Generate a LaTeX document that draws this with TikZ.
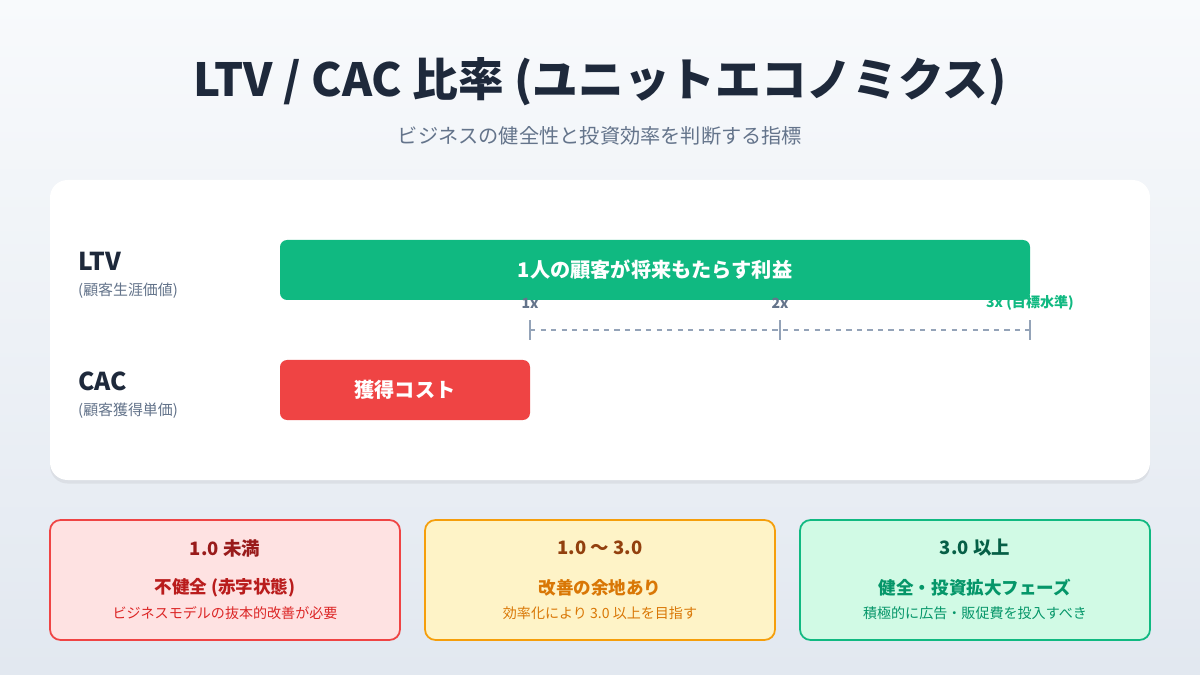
\documentclass[tikz,border=0pt]{standalone}
\usepackage{fontspec}
\setmainfont{Noto Sans CJK JP}
\usetikzlibrary{positioning,shadows}
\definecolor{ink}{HTML}{1E293B}
\definecolor{slate}{HTML}{64748B}
\definecolor{axisgray}{HTML}{94A3B8}
\definecolor{ltvgreen}{HTML}{10B981}
\definecolor{cacred}{HTML}{EF4444}
\definecolor{bgtop}{HTML}{F8FAFC}
\definecolor{bgbot}{HTML}{E2E8F0}

\tikzset{
  bar/.style={rounded corners=4pt, text=white, font=\bfseries\fontsize{11.5}{13}\selectfont},
  rowlabel/.style={anchor=west, align=left, text=ink, font=\bfseries\fontsize{14}{16}\selectfont},
  rowsub/.style={anchor=west, text=slate, font=\fontsize{8.5}{10}\selectfont},
  ticklabel/.style={text=slate, font=\bfseries\fontsize{8}{9}\selectfont},
  zone/.style={rounded corners=6pt, line width=1pt},
}

\begin{document}
\begin{tikzpicture}[x=0.02cm, y=-0.02cm]
\useasboundingbox (0,0) rectangle (1200,675);
\shade[top color=bgtop, bottom color=bgbot] (0,0) rectangle (1200,675);

% title
\node (title) at (600,82) {\textcolor{ink}{\bfseries\fontsize{26}{30}\selectfont LTV / CAC 比率 (ユニットエコノミクス)}};
\node[text=slate, font=\fontsize{11.5}{13}\selectfont] (subtitle) at (600,136) {ビジネスの健全性と投資効率を判断する指標};

% card
\fill[white, rounded corners=10pt, drop shadow={opacity=0.12, shadow xshift=0pt, shadow yshift=-2pt}] (50,180) rectangle (1150,480);

% LTV row
\node[rowlabel] (ltv) at (72,261) {LTV};
\node[rowsub] (ltvsub) at (72,291) {(顧客生涯価値)};
\fill[ltvgreen, rounded corners=4pt] (280,240) rectangle (1030,300);
\node[bar] (ltvbar) at (655,270) {1人の顧客が将来もたらす利益};

% CAC row
\node[rowlabel] (cac) at (72,381) {CAC};
\node[rowsub] (cacsub) at (72,411) {(顧客獲得単価)};
\fill[cacred, rounded corners=4pt] (280,360) rectangle (530,420);
\node[bar] (cacbar) at (405,390) {獲得コスト};

% ratio axis
\coordinate (t1) at (530,330);
\coordinate (t2) at (780,330);
\coordinate (t3) at (1030,330);
\draw[axisgray, line width=1pt, dashed] (t1) -- (t3);
\foreach \p in {t1,t2,t3}
  \draw[axisgray, line width=1pt] ([yshift=-10*0.02cm]\p) -- ([yshift=10*0.02cm]\p);
\node[ticklabel] (l1) at (530,303) {1x};
\node[ticklabel] (l2) at (780,303) {2x};
\node[ticklabel, text=ltvgreen] (l3) at (1030,303) {3x (目標水準)};

% zones
\foreach \x/\fc/\dc/\tc/\mc/\sc/\ta/\tb/\tcc in {
  50/FEE2E2/EF4444/991B1B/B91C1C/DC2626/{1.0 未満}/{不健全 (赤字状態)}/{ビジネスモデルの抜本的改善が必要},
  425/FEF3C7/F59E0B/92400E/D97706/D97706/{1.0 〜 3.0}/{改善の余地あり}/{効率化により 3.0 以上を目指す},
  800/D1FAE5/10B981/065F46/059669/059669/{3.0 以上}/{健全・投資拡大フェーズ}/{積極的に広告・販促費を投入すべき}}{
  \definecolor{zf}{HTML}{\fc}\definecolor{zd}{HTML}{\dc}
  \definecolor{zt}{HTML}{\tc}\definecolor{zm}{HTML}{\mc}\definecolor{zs}{HTML}{\sc}
  \draw[zone, fill=zf, draw=zd] (\x,520) rectangle ++(350,120);
  \node[text=zt, font=\bfseries\fontsize{10.5}{12}\selectfont] at (\x+175,548) {\ta};
  \node[text=zm, font=\bfseries\fontsize{10}{12}\selectfont] at (\x+175,588) {\tb};
  \node[text=zs, font=\fontsize{8}{10}\selectfont] at (\x+175,613) {\tcc};
}
\end{tikzpicture}
\end{document}
